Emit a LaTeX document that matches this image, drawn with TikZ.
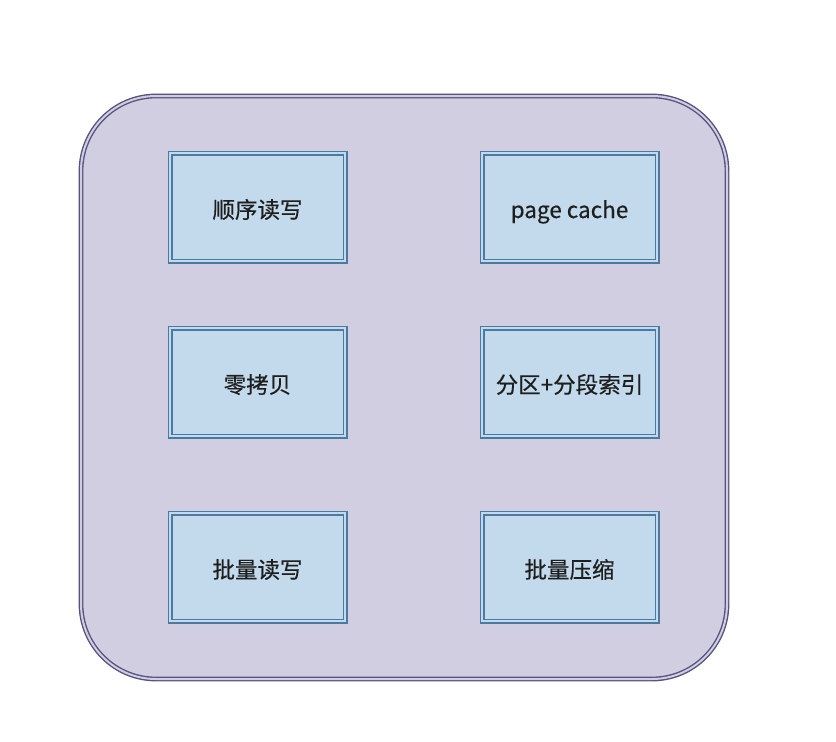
\documentclass[tikz,border=0pt]{standalone}
\usepackage{fontspec}
\newfontfamily\cjk[UprightFeatures={FakeBold=0.45}]{Noto Sans CJK SC}
\definecolor{panelfill}{HTML}{D1CEE1}
\definecolor{paneledge}{HTML}{57527F}
\definecolor{cellfill}{HTML}{C2DAEC}
\definecolor{celledge}{HTML}{4A7AA2}
\definecolor{inktext}{HTML}{1E1E1E}
\begin{document}
\begin{tikzpicture}[x=1pt,y=-1pt,
  panel/.style={draw=paneledge,double=panelfill,double distance=2pt,line width=1.4pt,
    fill=panelfill,rounded corners=75pt},
  cell/.style={draw=celledge,double=cellfill,double distance=2.2pt,line width=1.4pt,
    fill=cellfill,minimum width=175pt,minimum height=108pt,inner sep=0pt,
    text height=22pt,text depth=0pt,
    font=\cjk\fontsize{22.5}{26}\selectfont,text=inktext}]
  \useasboundingbox (0,0) rectangle (836,742);
  % outer panel
  \draw[panel] (81,96) rectangle (727,679);
  % feature cells
  \node[cell] (seq)   at (257.5,207)  {顺序读写};
  \node[cell] (cache) at (569.5,207)  {page cache};
  \node[cell] (zero)  at (257.5,382)  {零拷贝};
  \node[cell] (index) at (569.5,382)  {分区+分段索引};
  \node[cell] (batch) at (257.5,567)  {批量读写};
  \node[cell] (comp)  at (569.5,567)  {批量压缩};
\end{tikzpicture}
\end{document}
